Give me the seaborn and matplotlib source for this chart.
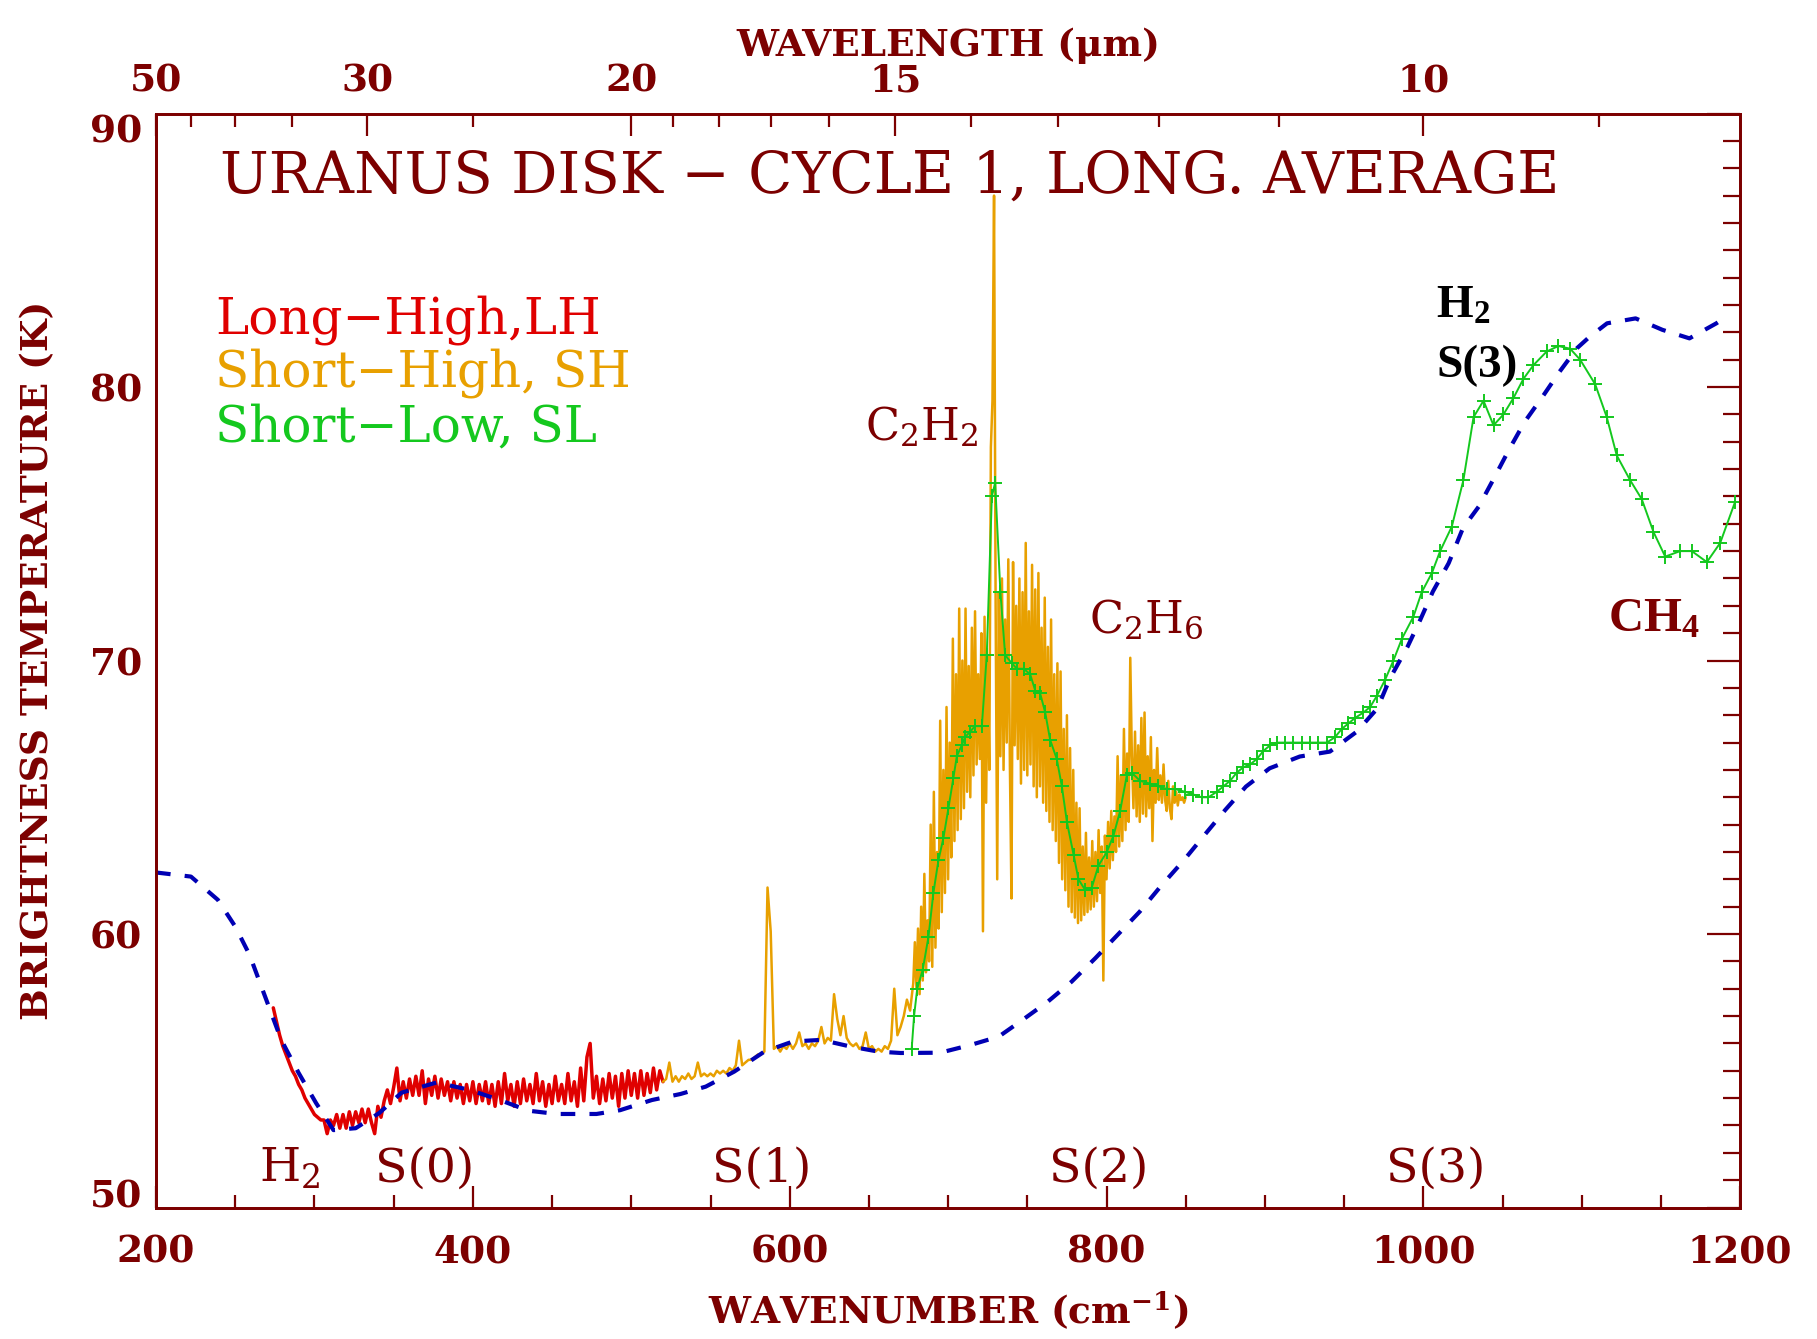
import numpy as np
import pandas as pd
import matplotlib
matplotlib.use("Agg")
import matplotlib.pyplot as plt
from matplotlib.ticker import MultipleLocator, FixedLocator
import seaborn as sns

# ---------------- data ----------------
# Long-High (LH) spectrum, sampled every 2 cm-1 starting at 274 cm-1
lh_first, lh_step = 274, 2
lh_temp = [
    57.3, 56.8, 56.3, 55.9, 55.6, 55.3, 55.0, 54.8, 54.5, 54.3,
    54.0, 53.8, 53.6, 53.4, 53.3, 53.2, 53.2, 52.7, 53.2, 53.0,
    53.4, 52.9, 53.4, 52.9, 53.5, 53.0, 53.5, 53.1, 53.6, 53.1,
    53.6, 53.1, 52.7, 53.7, 53.3, 53.9, 54.3, 53.8, 54.4, 55.1,
    53.9, 54.6, 54.0, 54.7, 54.1, 54.8, 54.1, 55.0, 53.8, 54.7,
    54.1, 54.8, 54.0, 54.7, 54.1, 54.6, 53.9, 54.6, 54.0, 54.5,
    53.8, 54.5, 53.9, 54.6, 53.8, 54.5, 53.9, 54.6, 53.8, 54.5,
    53.7, 54.6, 53.8, 54.9, 53.9, 54.5, 53.7, 54.6, 53.8, 54.7,
    53.9, 54.5, 53.8, 54.9, 53.9, 54.6, 53.7, 54.5, 53.8, 54.8,
    53.9, 54.5, 53.8, 54.9, 53.9, 54.6, 53.7, 55.1, 53.9, 55.5,
    56.0, 54.0, 54.8, 53.8, 54.7, 53.9, 54.9, 54.0, 54.8, 53.7,
    54.9, 54.0, 55.0, 54.1, 54.9, 54.0, 55.0, 54.1, 54.9, 54.2,
    55.1, 54.3, 55.0, 54.6,
]

# Short-High (SH) spectrum: 520-678 cm-1 every 2 cm-1 ...
sh_a_first, sh_a_step = 520, 2
sh_a_temp = [
    54.6, 54.7, 55.3, 54.6, 54.8, 54.6, 54.8, 54.7, 54.9, 54.7,
    54.8, 55.3, 54.8, 54.9, 54.8, 54.9, 54.8, 55.0, 54.9, 55.0,
    54.9, 55.1, 55.0, 55.2, 56.1, 55.2, 55.3, 55.4, 55.4, 55.5,
    55.6, 55.6, 55.7, 61.7, 60.1, 55.8, 55.9, 55.7, 55.9, 55.8,
    56.0, 55.8, 56.0, 56.4, 55.9, 56.0, 55.8, 56.0, 55.9, 56.1,
    56.6, 56.0, 56.2, 56.1, 57.8, 56.9, 56.3, 57.0, 56.2, 56.0,
    55.9, 56.0, 55.8, 55.9, 56.4, 55.8, 55.9, 55.7, 55.8, 55.7,
    55.9, 55.8, 56.1, 58.0, 56.3, 56.6, 57.0, 57.6, 57.2, 58.2,
]
# ... and 679-850 cm-1 every 1 cm-1 (acetylene / ethane bands)
sh_b_first, sh_b_step = 679, 1
sh_b_temp = [
    59.7, 58.0, 60.2, 57.8, 61.0, 58.3, 62.2, 58.6, 60.5, 59.0,
    64.0, 58.8, 65.2, 59.5, 63.0, 60.2, 67.8, 60.8, 66.0, 61.5,
    68.3, 62.0, 67.0, 62.8, 70.8, 63.4, 69.5, 63.8, 71.9, 64.2,
    70.0, 64.6, 71.9, 65.2, 69.8, 65.0, 71.2, 65.8, 71.8, 66.2,
    69.5, 66.4, 71.0, 60.1, 71.6, 64.8, 70.2, 66.0, 77.8, 79.5,
    87.0, 72.0, 62.0, 72.5, 66.5, 73.0, 66.0, 71.5, 67.0, 73.7,
    66.2, 61.3, 73.6, 66.9, 72.0, 66.4, 73.0, 65.5, 72.5, 66.0,
    74.3, 65.8, 71.8, 66.2, 73.5, 65.4, 72.6, 65.0, 73.2, 65.4,
    71.2, 64.8, 72.3, 64.5, 70.5, 64.1, 71.5, 63.8, 69.5, 63.4,
    69.9, 62.6, 69.6, 62.0, 67.5, 61.6, 68.0, 61.0, 66.8, 60.8,
    66.0, 60.6, 64.8, 60.4, 64.6, 60.5, 63.2, 60.7, 63.7, 60.8,
    62.8, 60.9, 63.4, 61.0, 63.0, 61.2, 63.8, 61.5, 63.2, 58.3,
    63.6, 62.0, 64.1, 62.4, 64.5, 62.7, 64.3, 63.0, 66.5, 63.2,
    65.8, 63.4, 67.5, 63.8, 66.6, 64.1, 70.1, 66.5, 64.6, 67.4,
    64.3, 66.9, 64.1, 67.9, 64.4, 68.1, 64.3, 66.5, 64.6, 67.2,
    63.4, 66.0, 64.8, 66.8, 64.9, 65.8, 64.8, 66.2, 64.9, 64.5,
    65.6, 64.6, 64.2, 65.4, 64.8, 65.2, 64.7, 65.1, 64.9, 65.0,
    64.8, 65.0,
]

# Short-Low (SL) spectrum
sl_wavenumber = [
    677.0, 678.5, 680.5, 684.0, 687.6, 690.7, 693.9, 697.0, 700.2, 703.3,
    705.5, 708.6, 710.7, 713.9, 717.0, 721.3, 724.4, 727.6, 729.7, 733.0,
    736.0, 740.2, 743.4, 747.6, 751.8, 755.0, 758.1, 761.3, 764.4, 768.6,
    771.8, 775.0, 779.2, 782.3, 786.6, 790.7, 794.9, 800.2, 804.4, 808.6,
    812.8, 815.9, 821.2, 827.5, 832.8, 838.1, 843.3, 849.6, 854.9, 860.1,
    864.3, 869.6, 873.8, 878.0, 882.2, 886.4, 890.7, 894.9, 899.1, 903.3,
    907.5, 912.8, 918.0, 923.3, 928.5, 933.8, 939.1, 944.3, 948.5, 952.7,
    956.9, 962.2, 966.4, 970.6, 975.9, 981.1, 986.5, 993.7, 999.0, 1005.4,
    1010.6, 1018.0, 1025.3, 1031.7, 1038.0, 1044.3, 1050.6, 1056.9, 1063.2, 1069.5,
    1077.9, 1085.3, 1092.7, 1099.0, 1108.5, 1115.8, 1122.1, 1130.5, 1137.9, 1145.3,
    1152.7, 1162.1, 1169.5, 1179.0, 1187.4, 1196.8,
]
sl_temp = [
    55.8, 57.0, 58.0, 58.7, 59.9, 61.5, 62.7, 63.5, 64.6, 65.7,
    66.5, 66.9, 67.2, 67.4, 67.6, 67.6, 70.2, 76.0, 76.5, 72.5,
    70.2, 69.9, 69.7, 69.7, 69.5, 68.9, 68.8, 68.1, 67.1, 66.4,
    65.4, 64.1, 62.9, 62.0, 61.6, 61.7, 62.5, 63.0, 63.6, 64.5,
    65.8, 65.9, 65.6, 65.5, 65.4, 65.3, 65.3, 65.2, 65.1, 65.0,
    65.0, 65.2, 65.4, 65.6, 65.9, 66.1, 66.2, 66.4, 66.7, 66.9,
    67.0, 67.0, 67.0, 67.0, 67.0, 67.0, 67.0, 67.2, 67.5, 67.7,
    67.9, 68.1, 68.3, 68.7, 69.3, 70.0, 70.8, 71.6, 72.5, 73.2,
    74.0, 74.9, 76.6, 78.9, 79.5, 78.6, 79.0, 79.6, 80.3, 80.8,
    81.3, 81.5, 81.4, 81.0, 80.1, 78.9, 77.5, 76.6, 75.9, 74.7,
    73.8, 74.0, 74.0, 73.6, 74.3, 75.8,
]

# Model brightness temperature
model_wavenumber = [
    200, 222, 239, 250, 259, 268, 279, 290, 301, 312,
    326, 341, 355, 377, 398, 417, 435, 453, 478, 493,
    513, 531, 547, 565, 584, 602, 620, 638, 656, 670,
    695, 714, 732, 747, 763, 778, 793, 808, 821, 834,
    849, 861, 875, 888, 903, 922, 941, 958, 971, 979,
    990, 998, 1006, 1016, 1025, 1035, 1044, 1054, 1064, 1076,
    1086, 1097, 1105, 1116, 1134, 1151, 1168, 1185, 1192,
]
model_temp = [
    62.25, 62.1, 61.25, 60.27, 59.24, 57.84, 56.13, 54.92, 53.82, 52.83,
    52.9, 53.46, 54.2, 54.57, 54.3, 53.93, 53.54, 53.42, 53.42, 53.56,
    53.93, 54.15, 54.42, 54.97, 55.7, 56.07, 56.13, 55.89, 55.7, 55.65,
    55.66, 55.94, 56.25, 56.86, 57.53, 58.26, 59.12, 60.03, 60.82, 61.73,
    62.71, 63.56, 64.54, 65.39, 66.06, 66.49, 66.67, 67.4, 68.25, 69.35,
    70.5, 71.48, 72.52, 73.56, 74.84, 75.63, 76.6, 77.7, 78.73, 79.71,
    80.56, 81.42, 81.84, 82.33, 82.51, 82.09, 81.78, 82.33, 82.6,
]

# axis ticks
wn_major = [200, 400, 600, 800, 1000, 1200]
wl_major = [50, 30, 20, 15, 10]
wl_minor = [45, 40, 35, 25, 19, 18, 17, 16, 14, 13, 12, 11, 9]
temp_major = [50, 60, 70, 80, 90]

# ---------------- style ----------------
DARK = "#7c0000"
RED = "#e00000"
ORANGE = "#e8a000"
GREEN = "#14c81e"
BLUE = "#0000b4"

SERIF = ["DejaVu Serif"]
TIMES = ["Liberation Serif", "DejaVu Serif"]

sns.set_style("white")
plt.rcParams["font.family"] = SERIF
plt.rcParams["mathtext.fontset"] = "custom"
plt.rcParams["mathtext.rm"] = "Liberation Serif"
plt.rcParams["mathtext.it"] = "Liberation Serif:italic"
plt.rcParams["mathtext.bf"] = "Liberation Serif:bold"

fig = plt.figure(figsize=(18.17, 13.39), dpi=100)
ax = fig.add_axes([0.0859, 0.0982, 0.8718, 0.8170])

lh = pd.DataFrame({"wavenumber": lh_first + lh_step * np.arange(len(lh_temp)),
                   "temp": lh_temp})
sh = pd.DataFrame({
    "wavenumber": np.concatenate([sh_a_first + sh_a_step * np.arange(len(sh_a_temp)),
                                  sh_b_first + sh_b_step * np.arange(len(sh_b_temp))]),
    "temp": sh_a_temp + sh_b_temp,
})
sl = pd.DataFrame({"wavenumber": sl_wavenumber, "temp": sl_temp})
model = pd.DataFrame({"wavenumber": model_wavenumber, "temp": model_temp})

sns.lineplot(data=lh, x="wavenumber", y="temp", ax=ax, color=RED, lw=2.5,
             estimator=None, sort=False, legend=False, zorder=2)
sns.lineplot(data=sh, x="wavenumber", y="temp", ax=ax, color=ORANGE, lw=1.8,
             estimator=None, sort=False, legend=False, zorder=2)
sns.lineplot(data=sl, x="wavenumber", y="temp", ax=ax, color=GREEN, lw=1.4,
             marker="+", markersize=10, markeredgewidth=1.4, markeredgecolor=GREEN,
             estimator=None, sort=False, legend=False, zorder=3)
sns.lineplot(data=model, x="wavenumber", y="temp", ax=ax, color=BLUE, lw=3.0,
             linestyle=(0, (3.5, 3.4)), estimator=None, sort=False, legend=False, zorder=4)

# ---------------- axes ----------------
ax.set_xlim(200, 1200)
ax.set_ylim(50, 90)
ax.set_xticks(wn_major)
ax.xaxis.set_minor_locator(MultipleLocator(50))
ax.set_yticks(temp_major)
ax.yaxis.set_minor_locator(MultipleLocator(1))

for s in ax.spines.values():
    s.set_color(DARK)
    s.set_linewidth(2.0)

TICKSIZE = 27
ax.tick_params(axis="x", which="major", direction="in", length=16, width=1.6,
               color=DARK, labelcolor=DARK, labelsize=TICKSIZE, pad=19, top=False)
ax.tick_params(axis="x", which="minor", direction="in", length=9.5, width=1.6,
               color=DARK, top=False)
ax.tick_params(axis="y", which="major", direction="in", length=24, width=1.6,
               color=DARK, labelcolor=DARK, labelsize=TICKSIZE, pad=10, right=True)
ax.tick_params(axis="y", which="minor", direction="in", length=12, width=1.6,
               color=DARK, right=True)
for lab in ax.get_xticklabels() + ax.get_yticklabels():
    lab.set_fontweight("bold")

yt = ax.yaxis.get_major_ticks()
yt[0].label1.set_va("baseline")
yt[-1].label1.set_va("top")

ax.set_xlabel("WAVENUMBER (cm$^{\\mathbf{-1}}$)", fontsize=27, fontweight="bold",
              color=DARK, math_fontfamily="dejavuserif")
ax.xaxis.set_label_coords(0.5, -0.075)
ax.set_ylabel("BRIGHTNESS TEMPERATURE (K)", fontsize=27, fontweight="bold", color=DARK)
ax.yaxis.set_label_coords(-0.063, 0.5)

# wavelength axis along the top
top = ax.twiny()
top.set_xlim(ax.get_xlim())
top.xaxis.set_major_locator(FixedLocator([1e4 / w for w in wl_major]))
top.xaxis.set_minor_locator(FixedLocator([1e4 / w for w in wl_minor]))
top.set_xticklabels([str(w) for w in wl_major])
top.tick_params(axis="x", which="major", direction="in", length=16, width=1.6,
                color=DARK, labelcolor=DARK, labelsize=TICKSIZE, pad=10)
top.tick_params(axis="x", which="minor", direction="in", length=9.5, width=1.6, color=DARK)
for lab in top.get_xticklabels():
    lab.set_fontweight("bold")
for s in top.spines.values():
    s.set_color(DARK)
    s.set_linewidth(2.0)
top.set_xlabel("WAVELENGTH (μm)", fontsize=27, fontweight="bold", color=DARK)
top.xaxis.set_label_coords(0.5, 1.053)

# ---------------- text ----------------
ax.text(240.4, 87.09, "URANUS DISK − CYCLE 1, LONG. AVERAGE", fontsize=41.6,
        color=DARK, ha="left", va="baseline")

ax.text(237.2, 81.97, "Long−High,LH", fontsize=36, color=RED, ha="left", va="baseline")
ax.text(237.2, 80.01, "Short−High, SH", fontsize=36, color=ORANGE, ha="left", va="baseline")
ax.text(237.2, 78.00, "Short−Low, SL", fontsize=36, color=GREEN, ha="left", va="baseline")

ax.text(647.6, 78.06, "C$_2$H$_2$", fontsize=32, color=DARK, ha="left", va="baseline",
        math_fontfamily="dejavuserif")
ax.text(789.0, 71.0, "C$_2$H$_6$", fontsize=32, color=DARK, ha="left", va="baseline",
        math_fontfamily="dejavuserif")
ax.text(1116.7, 71.06, "CH$_\\mathbf{4}$", fontsize=35, color=DARK, fontweight="bold",
        family=TIMES, ha="left", va="baseline")

ax.text(1008.0, 82.52, "H$_\\mathbf{2}$", fontsize=34, color="black", fontweight="bold",
        family=TIMES, ha="left", va="baseline")
ax.text(1008.0, 80.38, "S(3)", fontsize=34, color="black", fontweight="bold",
        family=TIMES, ha="left", va="baseline")

for xpos, txt in [(284.5, "H$_2$"), (369.7, "S(0)"), (582.6, "S(1)"),
                  (795.0, "S(2)"), (1007.6, "S(3)")]:
    ax.text(xpos, 50.95, txt, fontsize=34, color=DARK, ha="center", va="baseline",
            math_fontfamily="dejavuserif")

fig.savefig("out.png", dpi=100)
